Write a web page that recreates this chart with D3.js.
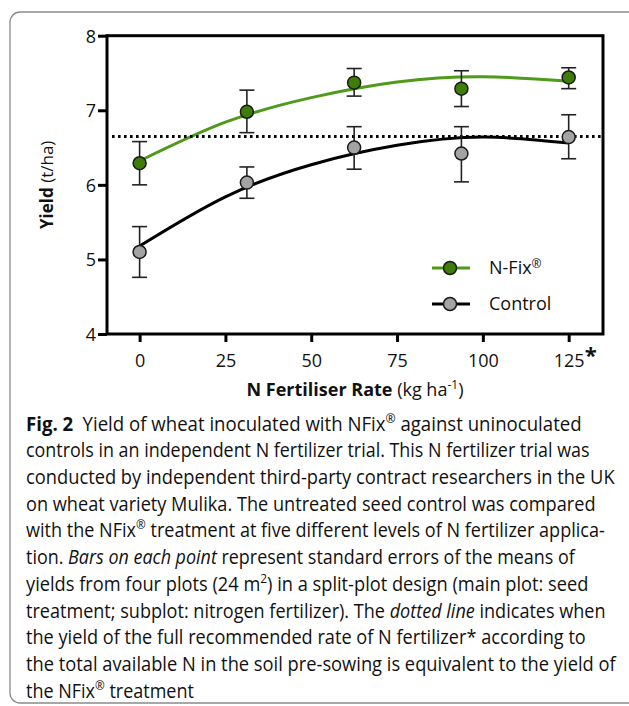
<!DOCTYPE html>
<html>
<head>
<meta charset="utf-8">
<script src="https://d3js.org/d3.v7.min.js"></script>
<style>
body { margin: 0; background: #fff; }
svg { display: block; }
text { font-family: "Open Sans", sans-serif; fill: #111; white-space: pre; }
</style>
</head>
<body>
<svg id="fig" width="629" height="706"></svg>
<script>
// N rates (kg/ha) and yields (t/ha)
var rates    = [0, 31.25, 62.5, 93.75, 125];
var nfixMean = [6.29, 6.98, 7.37, 7.29, 7.44];
var nfixHi   = [6.58, 7.27, 7.56, 7.53, 7.57];
var nfixLo   = [6.00, 6.70, 7.19, 7.05, 7.29];
var ctrlMean = [5.10, 6.03, 6.50, 6.42, 6.64];
var ctrlHi   = [5.44, 6.24, 6.78, 6.78, 6.94];
var ctrlLo   = [4.76, 5.82, 6.21, 6.04, 6.35];
// fitted curves
var fitX    = [0, 25, 50, 75, 100, 125];
var nfixFit = [6.32, 6.84, 7.17, 7.38, 7.45, 7.39];
var ctrlFit = [5.18, 5.84, 6.27, 6.53, 6.64, 6.56];
var refYield = 6.65;
var xTicks = [0, 25, 50, 75, 100, 125];
var yTicks = [4, 5, 6, 7, 8];
var seriesNames = ["N-Fix", "Control"];

var caption = [
  [["b","Fig. 2"],["n","\u2002Yield of wheat inoculated with NFix"],["s","\u00ae"],["n"," against uninoculated"]],
  [["n","controls in an independent N fertilizer trial. This N fertilizer trial was"]],
  [["n","conducted by independent third-party contract researchers in the UK"]],
  [["n","on wheat variety Mulika. The untreated seed control was compared"]],
  [["n","with the NFix"],["s","\u00ae"],["n"," treatment at five different levels of N fertilizer applica-"]],
  [["n","tion. "],["i","Bars on each point"],["n"," represent standard errors of the means of"]],
  [["n","yields from four plots (24 m"],["s","2"],["n",") in a split-plot design (main plot: seed"]],
  [["n","treatment; subplot: nitrogen fertilizer). The "],["i","dotted line"],["n"," indicates when"]],
  [["n","the yield of the full recommended rate of N fertilizer* according to"]],
  [["n","the total available N in the soil pre-sowing is equivalent to the yield of"]],
  [["n","the NFix"],["s","\u00ae"],["n"," treatment"]]
];
var capWidths = [556, 564, 589, 570, 579, 549, 563, 580, 560, 590, 168];

var green = "#3d7d08", greenLine = "#4f9a1a", grey = "#a3a3a3";

var svg = d3.select("#fig");

// outer box
svg.append("rect")
  .attr("x", 10).attr("y", 12).attr("width", 660).attr("height", 691)
  .attr("rx", 10).attr("fill", "none").attr("stroke", "#8a8a8a").attr("stroke-width", 1.3);

var x = d3.scaleLinear().domain([-9.5, 135]).range([107, 603]);
var y = d3.scaleLinear().domain([4, 8]).range([334, 35.7]);

// axes
var gx = svg.append("g").attr("transform", "translate(0," + y(4) + ")")
  .call(d3.axisBottom(x).tickValues(xTicks).tickFormat(d3.format("d"))
    .tickSize(8).tickSizeOuter(0).tickPadding(12));
var gy = svg.append("g").attr("transform", "translate(" + x.range()[0] + ",0)")
  .call(d3.axisLeft(y).tickValues(yTicks).tickFormat(d3.format("d"))
    .tickSize(9).tickSizeOuter(0).tickPadding(2));
[gx, gy].forEach(function(g) {
  g.select(".domain").remove();
  g.selectAll(".tick line").attr("stroke", "#000").attr("stroke-width", 3);
  g.selectAll(".tick text").style("font-size", "18px").attr("fill", "#111");
});
gy.selectAll(".tick text").attr("dy", "0.36em");
// asterisk on the full recommended rate
svg.append("text").attr("x", x(125) + 16).attr("y", 363)
  .style("font-size", "22px").style("font-weight", "bold").text("*");

// frame
svg.append("rect")
  .attr("x", x.range()[0]).attr("y", y(8))
  .attr("width", x.range()[1] - x.range()[0]).attr("height", y(4) - y(8))
  .attr("fill", "none").attr("stroke", "#000").attr("stroke-width", 3);

// fitted curves
var line = d3.line().curve(d3.curveNatural)
  .x(function(d) { return x(d[0]); }).y(function(d) { return y(d[1]); });
svg.append("path").datum(d3.zip(fitX, ctrlFit)).attr("d", line)
  .attr("fill", "none").attr("stroke", "#000").attr("stroke-width", 3);
svg.append("path").datum(d3.zip(fitX, nfixFit)).attr("d", line)
  .attr("fill", "none").attr("stroke", greenLine).attr("stroke-width", 3);

// dotted reference line
svg.append("line")
  .attr("x1", x.range()[0] + 5).attr("x2", x.range()[1])
  .attr("y1", y(refYield)).attr("y2", y(refYield))
  .attr("stroke", "#000").attr("stroke-width", 3).attr("stroke-dasharray", "2.6 3.4");

// error bars + points
function drawSeries(mean, lo, hi, fill) {
  var data = rates.map(function(r, i) { return {x: r, m: mean[i], lo: lo[i], hi: hi[i]}; });
  var g = svg.append("g");
  var eb = g.selectAll(".eb").data(data).enter().append("g")
    .attr("stroke", "#222").attr("stroke-width", 1.6);
  eb.append("line").attr("x1", function(d) { return x(d.x); }).attr("x2", function(d) { return x(d.x); })
    .attr("y1", function(d) { return y(d.lo); }).attr("y2", function(d) { return y(d.hi); });
  eb.append("line").attr("x1", function(d) { return x(d.x) - 7.5; }).attr("x2", function(d) { return x(d.x) + 7.5; })
    .attr("y1", function(d) { return y(d.hi); }).attr("y2", function(d) { return y(d.hi); });
  eb.append("line").attr("x1", function(d) { return x(d.x) - 7.5; }).attr("x2", function(d) { return x(d.x) + 7.5; })
    .attr("y1", function(d) { return y(d.lo); }).attr("y2", function(d) { return y(d.lo); });
  g.selectAll("circle").data(data).enter().append("circle")
    .attr("cx", function(d) { return x(d.x); }).attr("cy", function(d) { return y(d.m); })
    .attr("r", 6.5).attr("fill", fill).attr("stroke", "#1a1a1a").attr("stroke-width", 1.5);
}
drawSeries(ctrlMean, ctrlLo, ctrlHi, grey);
drawSeries(nfixMean, nfixLo, nfixHi, green);

// legend
var legend = svg.append("g");
[[seriesNames[0], greenLine, green, 268], [seriesNames[1], "#000", grey, 304]].forEach(function(s, i) {
  legend.append("line").attr("x1", 432).attr("x2", 470).attr("y1", s[3]).attr("y2", s[3])
    .attr("stroke", s[1]).attr("stroke-width", 3);
  legend.append("circle").attr("cx", 450).attr("cy", s[3]).attr("r", 6.5)
    .attr("fill", s[2]).attr("stroke", "#1a1a1a").attr("stroke-width", 1.5);
  var t = legend.append("text").attr("x", 489).attr("y", s[3]).attr("dy", "0.36em")
    .style("font-size", "18px").text(s[0]);
  if (i === 0) t.append("tspan").attr("dy", "-0.5em").style("font-size", "12px").text("\u00ae");
});

// axis titles
var xt = svg.append("text").attr("x", (x.range()[0] + x.range()[1]) / 2).attr("y", 396)
  .attr("text-anchor", "middle").style("font-size", "18px");
xt.append("tspan").style("font-weight", "bold").text("N Fertiliser Rate");
xt.append("tspan").text(" (kg ha");
xt.append("tspan").attr("dy", -7).style("font-size", "12px").text("-1");
xt.append("tspan").attr("dy", 7).text(")");

var yt = svg.append("text").attr("transform", "translate(53," + ((y(4) + y(8)) / 2) + ") rotate(-90)")
  .attr("text-anchor", "middle").style("font-size", "17px");
yt.append("tspan").style("font-weight", "bold").text("Yield");
yt.append("tspan").text(" (t/ha)");

// caption: each line squeezed horizontally to the width it has in the figure
caption.forEach(function(segs, i) {
  var g = svg.append("g");
  var t = g.append("text").attr("x", 0).attr("y", 430.7 + i * 26.7).style("font-size", "20px");
  var raised = false;
  segs.forEach(function(s) {
    var sp = t.append("tspan").text(s[1]);
    if (s[0] === "b") sp.style("font-weight", "bold");
    if (s[0] === "i") sp.style("font-style", "italic");
    if (s[0] === "s") { sp.attr("dy", -8).style("font-size", "13px"); raised = true; }
    else if (raised) { sp.attr("dy", 8); raised = false; }
  });
  var w = t.node().getComputedTextLength();
  g.attr("transform", "translate(26,0) scale(" + (capWidths[i] / w) + ",1)");
});
</script>
</body>
</html>
